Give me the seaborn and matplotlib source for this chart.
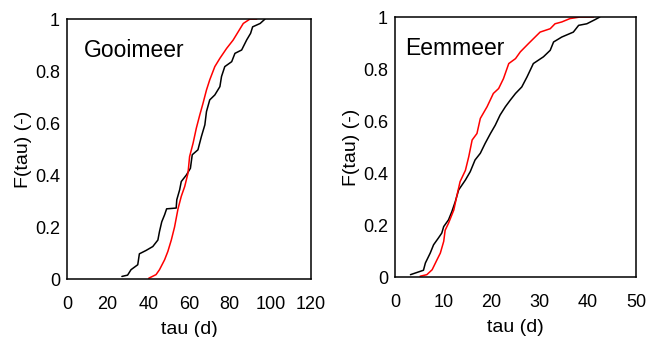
import matplotlib
matplotlib.use('Agg')
from matplotlib import pyplot as plt
import seaborn as sns

# Gooimeer, black curve
goo_black_tau = [27, 29.8, 31.5, 34.8, 35.6, 38.9, 42.2, 44.7, 45.5, 46.6, 48, 49, 53.7, 54, 55.4,
                 56.2, 58.7, 60.7, 61.6, 64.4, 66.1, 67.8, 68.6, 70.2, 72.7, 75.2, 76, 77.6, 81,
                 82.6, 85.9, 88.4, 90.3, 91.3, 95, 97.4]
goo_black_f = [0.01, 0.015, 0.036, 0.055, 0.097, 0.11, 0.125, 0.15, 0.183, 0.22, 0.247, 0.27, 0.273,
               0.305, 0.343, 0.375, 0.40, 0.426, 0.478, 0.497, 0.548, 0.593, 0.644, 0.689, 0.708,
               0.74, 0.779, 0.817, 0.836, 0.868, 0.881, 0.92, 0.945, 0.97, 0.983, 1.0]
# Gooimeer, red curve
goo_red_tau = [40.2, 43.8, 45.5, 48, 49.6, 51.3, 52.9, 54.6, 56.2, 57.9, 59.5, 60.3, 62, 63.6, 65.3,
               66.9, 68.6, 70.2, 72.7, 75.2, 78.5, 81.7, 84.2, 86.7, 90, 93.3]
goo_red_f = [0.003, 0.017, 0.036, 0.074, 0.106, 0.15, 0.2, 0.27, 0.318, 0.356, 0.407, 0.471, 0.522,
             0.58, 0.631, 0.676, 0.727, 0.766, 0.817, 0.849, 0.887, 0.919, 0.951, 0.983, 1.0, 1.0]

# Eemmeer, black curve
eem_black_tau = [3.2, 5.9, 6.3, 7.3, 8, 9, 9.7, 10.1, 11.1, 11.8, 12.5, 13.2, 14.6, 15.6, 16.6, 17.7,
                 18.7, 19.8, 20.8, 21.8, 22.9, 23.9, 25, 26.3, 27.4, 28.7, 30.8, 32.2, 32.9, 34.6,
                 37, 38.1, 39.8, 41.5, 42.5]
eem_black_f = [0.009, 0.026, 0.054, 0.092, 0.124, 0.15, 0.169, 0.194, 0.22, 0.252, 0.29, 0.335, 0.373,
               0.405, 0.45, 0.476, 0.514, 0.552, 0.584, 0.623, 0.655, 0.68, 0.706, 0.731, 0.77,
               0.821, 0.847, 0.872, 0.904, 0.923, 0.942, 0.968, 0.974, 0.99, 1.0]
# Eemmeer, red curve
eem_red_tau = [5.2, 6.6, 7.7, 8.7, 9.4, 10.1, 10.4, 11.1, 12.2, 12.8, 13.5, 14.6, 15.3, 16, 17, 17.7,
               19.1, 20.4, 21.5, 22.5, 23.6, 25, 26, 27.7, 30.1, 32.2, 33.2, 34.6, 36.3, 38.4, 41.2]
eem_red_f = [0.003, 0.009, 0.028, 0.066, 0.092, 0.137, 0.18, 0.207, 0.258, 0.31, 0.367, 0.41, 0.463,
             0.527, 0.552, 0.61, 0.655, 0.706, 0.725, 0.763, 0.821, 0.84, 0.866, 0.898, 0.942,
             0.955, 0.974, 0.981, 0.994, 1.0, 1.0]

x_ticks_goo = [0, 20, 40, 60, 80, 100, 120]
x_ticks_eem = [0, 10, 20, 30, 40, 50]
y_ticks = [0, 0.2, 0.4, 0.6, 0.8, 1]
y_tick_labels = ['0', '0.2', '0.4', '0.6', '0.8', '1']

sns.set_style('white')
plt.rcParams['font.family'] = ['Liberation Sans', 'DejaVu Sans']
plt.rcParams['text.color'] = 'black'
plt.rcParams['axes.labelcolor'] = 'black'

fig = plt.figure(figsize=(6.46, 3.37), dpi=100)
ax1 = fig.add_axes([0.1037, 0.172, 0.3777, 0.7715])
ax2 = fig.add_axes([0.6115, 0.178, 0.373, 0.7715])


def draw_panel(ax, black_t, black_f, red_t, red_f, xticks, name, text_x):
    sns.lineplot(x=black_t, y=black_f, ax=ax, color='black', lw=1.1, sort=False, estimator=None)
    sns.lineplot(x=red_t, y=red_f, ax=ax, color='red', lw=1.1, sort=False, estimator=None)
    ax.set_xlim(xticks[0], xticks[-1])
    ax.set_ylim(0, 1)
    ax.set_xticks(xticks)
    ax.set_xticklabels([str(t) for t in xticks])
    ax.set_yticks(y_ticks)
    ax.set_yticklabels(y_tick_labels)
    ax.tick_params(direction='in', length=6, width=1, labelsize=13, colors='black')
    ax.tick_params(axis='x', pad=12)
    ax.tick_params(axis='y', pad=5)
    for s in ax.spines.values():
        s.set_visible(True)
        s.set_color('black')
        s.set_linewidth(1.1)
    ax.set_xlabel('tau (d)', fontsize=14, labelpad=6)
    ax.set_ylabel('F(tau) (-)', fontsize=14, labelpad=2)
    ax.text(text_x, 0.88, name, transform=ax.transAxes, fontsize=16.5, va='center', ha='left')


draw_panel(ax1, goo_black_tau, goo_black_f, goo_red_tau, goo_red_f, x_ticks_goo, 'Gooimeer', 0.07)
draw_panel(ax2, eem_black_tau, eem_black_f, eem_red_tau, eem_red_f, x_ticks_eem, 'Eemmeer', 0.04)

fig.savefig('out.png', dpi=100)
